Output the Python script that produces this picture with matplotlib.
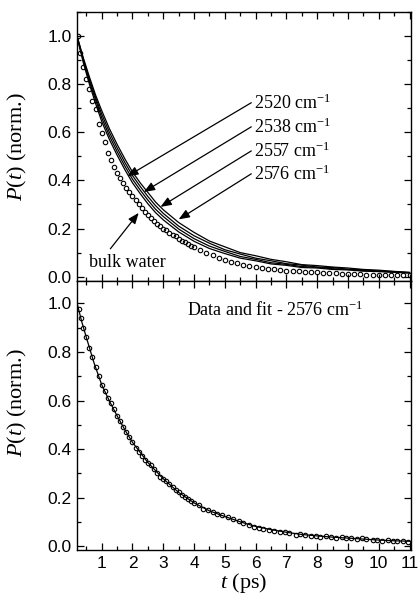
import matplotlib
matplotlib.use("Agg")
import matplotlib.pyplot as plt
from matplotlib.ticker import MultipleLocator

plt.rcParams['font.family'] = ['Liberation Sans', 'DejaVu Sans']
plt.rcParams['mathtext.fontset'] = 'custom'
plt.rcParams['mathtext.rm'] = 'Liberation Serif'
plt.rcParams['mathtext.it'] = 'Liberation Serif:italic'

# ---- upper panel: wavelength dependent decays ----
t_lines = [0.22, 0.4, 0.6, 0.8, 1.0, 1.25, 1.5, 1.75, 2.0, 2.25, 2.5, 2.75, 3.0, 3.5,
           4.0, 4.5, 5.0, 5.5, 6.0, 6.5, 7.0, 7.5, 8.0, 8.5, 9.0, 9.5, 10.0, 10.5, 11.0]
p_2576 = [0.99, 0.91, 0.83, 0.755, 0.69, 0.615, 0.55, 0.49, 0.435, 0.39, 0.35, 0.31, 0.278, 0.225,
          0.184, 0.148, 0.124, 0.100, 0.087, 0.072, 0.062, 0.050, 0.046, 0.040, 0.036, 0.030, 0.027, 0.022, 0.018]
p_2557 = [0.99, 0.905, 0.82, 0.745, 0.675, 0.60, 0.535, 0.475, 0.42, 0.375, 0.333, 0.295, 0.263, 0.21,
          0.170, 0.139, 0.112, 0.094, 0.077, 0.066, 0.054, 0.048, 0.040, 0.038, 0.031, 0.029, 0.023, 0.021, 0.017]
p_2538 = [0.985, 0.90, 0.81, 0.735, 0.66, 0.585, 0.52, 0.46, 0.405, 0.36, 0.318, 0.28, 0.25, 0.198,
          0.158, 0.127, 0.105, 0.084, 0.072, 0.058, 0.051, 0.042, 0.039, 0.033, 0.030, 0.025, 0.023, 0.019, 0.016]
p_2520 = [0.985, 0.89, 0.80, 0.72, 0.645, 0.57, 0.505, 0.445, 0.39, 0.345, 0.303, 0.266, 0.236, 0.186,
          0.147, 0.117, 0.096, 0.077, 0.066, 0.053, 0.047, 0.038, 0.036, 0.030, 0.028, 0.023, 0.021, 0.018, 0.015]

t_bulk = [0.22, 0.3, 0.4, 0.5, 0.6, 0.7, 0.8, 0.9, 1.0, 1.1, 1.2, 1.3, 1.4, 1.5, 1.6, 1.7, 1.8, 1.9,
          2.0, 2.1, 2.2, 2.3, 2.4, 2.5, 2.6, 2.7, 2.8, 2.9, 3.0, 3.1, 3.2, 3.3, 3.4, 3.5, 3.6, 3.7,
          3.8, 3.9, 4.0, 4.2, 4.4, 4.6, 4.8, 5.0, 5.2, 5.4, 5.6, 5.8, 6.0, 6.2, 6.4, 6.6, 6.8, 7.0,
          7.2, 7.4, 7.6, 7.8, 8.0, 8.2, 8.4, 8.6, 8.8, 9.0, 9.2, 9.4, 9.6, 9.8, 10.0, 10.2, 10.4,
          10.6, 10.8, 11.0]
p_bulk = [1.0, 0.93, 0.87, 0.82, 0.78, 0.73, 0.695, 0.635, 0.595, 0.558, 0.515, 0.485, 0.455, 0.43,
          0.41, 0.39, 0.37, 0.35, 0.335, 0.318, 0.30, 0.285, 0.27, 0.258, 0.245, 0.232, 0.22, 0.21,
          0.20, 0.192, 0.183, 0.175, 0.167, 0.158, 0.15, 0.142, 0.135, 0.128, 0.122, 0.112, 0.10,
          0.088, 0.078, 0.07, 0.062, 0.056, 0.05, 0.045, 0.041, 0.036, 0.033, 0.03, 0.027, 0.025,
          0.024, 0.022, 0.02, 0.019, 0.018, 0.016, 0.015, 0.015, 0.013, 0.012, 0.012, 0.01, 0.009,
          0.009, 0.008, 0.008, 0.007, 0.007, 0.007, 0.006]

labels = ['2520', '2538', '2557', '2576']
label_y = [0.72, 0.62, 0.52, 0.425]
arrow_tips = [(1.83, 0.417), (2.37, 0.352), (2.91, 0.29), (3.5, 0.238)]

# ---- lower panel: data and fit at 2576 ----
t_data = [0.25, 0.32, 0.4, 0.5, 0.6, 0.7, 0.8, 0.9, 1.0, 1.1, 1.2, 1.3, 1.4, 1.5, 1.6, 1.7, 1.8,
          1.9, 2.0, 2.1, 2.2, 2.3, 2.4, 2.5, 2.6, 2.7, 2.8, 2.9, 3.0, 3.1, 3.2, 3.3, 3.4, 3.5, 3.6,
          3.7, 3.8, 3.9, 4.0, 4.15, 4.3, 4.45, 4.6, 4.75, 4.9, 5.1, 5.25, 5.45, 5.6, 5.8, 5.95,
          6.1, 6.25, 6.45, 6.6, 6.8, 6.95, 7.1, 7.3, 7.45, 7.6, 7.8, 7.95, 8.1, 8.3, 8.45, 8.6,
          8.8, 8.95, 9.1, 9.3, 9.45, 9.6, 9.8, 9.95, 10.1, 10.3, 10.45, 10.6, 10.8, 10.95]
p_data = [0.976, 0.94, 0.90, 0.86, 0.815, 0.78, 0.74, 0.70, 0.665, 0.64, 0.61, 0.588, 0.565, 0.535,
          0.515, 0.492, 0.47, 0.45, 0.428, 0.406, 0.39, 0.372, 0.357, 0.345, 0.333, 0.32, 0.302,
          0.287, 0.278, 0.27, 0.258, 0.245, 0.233, 0.222, 0.212, 0.203, 0.195, 0.187, 0.179, 0.17,
          0.155, 0.148, 0.141, 0.135, 0.128, 0.12, 0.112, 0.103, 0.096, 0.087, 0.08, 0.076, 0.072,
          0.068, 0.064, 0.06, 0.058, 0.055, 0.046, 0.05, 0.047, 0.042, 0.043, 0.04, 0.042, 0.038,
          0.034, 0.037, 0.035, 0.033, 0.032, 0.033, 0.03, 0.028, 0.025, 0.022, 0.026, 0.024, 0.023,
          0.022, 0.02]
t_fit = [0.22, 0.35, 0.5, 0.75, 1.0, 1.25, 1.5, 1.75, 2.0, 2.5, 3.0, 3.5, 4.0, 4.5, 5.0, 5.5, 6.0,
         6.5, 7.0, 7.5, 8.0, 8.5, 9.0, 9.5, 10.0, 10.5, 11.0]
p_fit = [0.99, 0.925, 0.86, 0.755, 0.665, 0.598, 0.537, 0.48, 0.428, 0.345, 0.278, 0.222, 0.179,
         0.146, 0.123, 0.101, 0.082, 0.069, 0.058, 0.049, 0.043, 0.038, 0.034, 0.030, 0.026, 0.023, 0.021]

serif = 'Liberation Serif'
ann_size = 13

fig = plt.figure(figsize=(4.19, 5.97), dpi=100)
ax1 = fig.add_axes([0.184, 0.5285, 0.797, 0.4515])
ax2 = fig.add_axes([0.184, 0.0787, 0.797, 0.4498])

# upper panel
for p in [p_2520, p_2538, p_2557, p_2576]:
    ax1.plot(t_lines, p, color='black', lw=0.9)
ax1.plot(t_bulk, p_bulk, 'o', mfc='none', mec='black', ms=3.2, mew=0.8)

for lab, ly, tip in zip(labels, label_y, arrow_tips):
    ax1.annotate(lab + r' cm$^{\mathrm{-1}}$', xy=tip, xytext=(5.95, ly),
                 fontsize=ann_size, family=serif, ha='left', va='center',
                 arrowprops=dict(arrowstyle='-|>,head_length=0.5,head_width=0.2',
                                 color='black', lw=0.9, shrinkA=0, shrinkB=0,
                                 relpos=(0, 0.62)))
ax1.annotate('bulk water', xy=(2.2, 0.265), xytext=(0.58, 0.06),
             fontsize=ann_size, family=serif, ha='left', va='center',
             arrowprops=dict(arrowstyle='-|>,head_length=0.5,head_width=0.2',
                             color='black', lw=0.9, shrinkA=2, shrinkB=0,
                             relpos=(0.23, 1.0)))

# lower panel
ax2.plot(t_fit, p_fit, color='black', lw=0.9)
ax2.plot(t_data, p_data, 'o', mfc='none', mec='black', ms=3.2, mew=0.8)
ax2.text(3.77, 0.97, r'Data and fit - 2576 cm$^{\mathrm{-1}}$', fontsize=ann_size,
         family=serif, ha='left', va='center')

ax1.set_ylim(-0.02, 1.1)
ax2.set_ylim(-0.015, 1.09)
for ax in (ax1, ax2):
    ax.set_xlim(0.2, 11.05)
    ax.xaxis.set_major_locator(MultipleLocator(1))
    ax.xaxis.set_minor_locator(MultipleLocator(0.5))
    ax.yaxis.set_major_locator(MultipleLocator(0.2))
    ax.yaxis.set_minor_locator(MultipleLocator(0.1))
    ax.tick_params(which='both', direction='in', top=True, right=True, labelsize=12.5, pad=4)
    ax.tick_params(which='major', length=5, width=0.9)
    ax.tick_params(which='minor', length=3, width=0.9)
    ax.set_ylabel(r'$P(t)$ (norm.)', family=serif, fontsize=16)
    for s in ax.spines.values():
        s.set_linewidth(1.0)

ax1.yaxis.set_label_coords(-0.145, 0.5)
ax2.yaxis.set_label_coords(-0.145, 0.55)
ax1.tick_params(labelbottom=False)
ax2.set_xlabel(r'$t$ (ps)', family=serif, fontsize=16, labelpad=0)

fig.savefig('out.png', dpi=100)
